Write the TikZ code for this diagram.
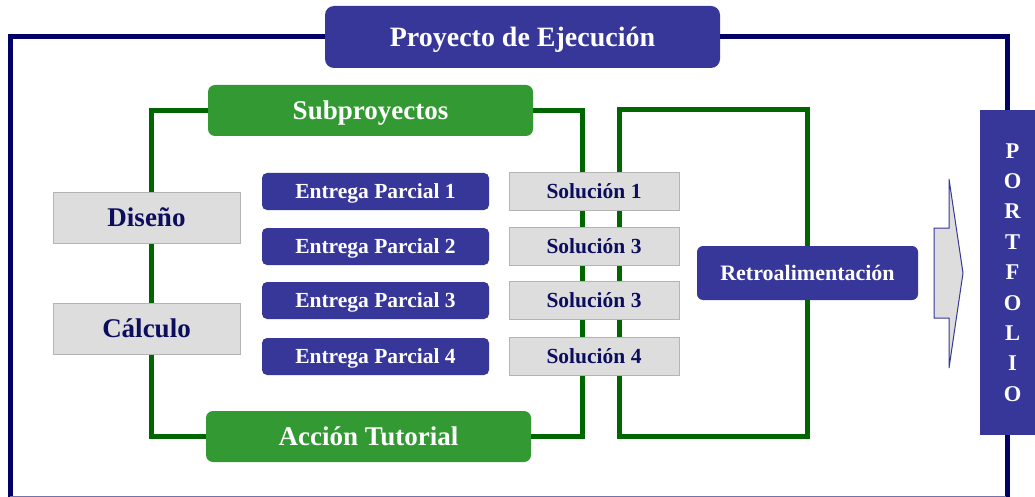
\documentclass[tikz,border=0pt]{standalone}
\usepackage{fontspec}
\setmainfont{Liberation Serif}
\definecolor{azul}{RGB}{55,54,153}
\definecolor{marino}{RGB}{0,0,102}
\definecolor{verde}{RGB}{51,153,51}
\definecolor{verdeosc}{RGB}{0,102,0}
\definecolor{gris}{RGB}{221,221,221}
\definecolor{grisb}{RGB}{180,180,180}
\definecolor{letra}{RGB}{13,13,94}
\newcommand{\tam}[1]{\bfseries\fontsize{#1}{#1}\selectfont}
\begin{document}
\begin{tikzpicture}[x=1pt, y=-1pt,
    caja/.style={inner sep=0pt, text depth=0pt},
    chico/.style={font=\tam{21.5}, text height=14.1pt},
    grande/.style={font=\tam{27}, text height=17.7pt},
    azulbox/.style={caja, fill=azul, rounded corners=6pt, text=white},
    verdebox/.style={caja, grande, fill=verde, rounded corners=7pt, text=white,
        minimum width=325pt, minimum height=51pt},
    grisbox/.style={caja, fill=gris, draw=grisb, line width=1pt, text=letra},
    marco/.style={draw=marino, line width=5pt},
    rama/.style={draw=verdeosc, line width=5pt}]
\useasboundingbox (0,0) rectangle (1035,497);

\node[azulbox, rounded corners=9pt, minimum width=395pt, minimum height=62pt, font=\tam{28}, text height=18.3pt] (proy) at (522.5,37) {Proyecto de Ejecución};
\node[verdebox] (sub) at (370.5,110.5) {Subproyectos};
\node[verdebox] (acc) at (368.5,436.5) {Acción Tutorial};
\node[azulbox, minimum width=221pt, minimum height=54pt, font=\tam{22}, text height=14.4pt] (retro) at (807.5,273) {Retroalimentación};
\node[fill=azul, minimum width=55pt, minimum height=325pt, inner sep=0pt] (port) at (1007.5,272.5) {};
\node[text=white, align=center, inner sep=0pt, font=\bfseries\fontsize{22.5}{30.4}\selectfont,
    xshift=5pt] (porttxt) at (port.center) {P\\O\\R\\T\\F\\O\\L\\I\\O};

% marco exterior
\draw[marco] (proy.west) -| (10.5,497);
\draw[marco] (proy.east) -| (port.north);
\draw[marco] (port.south) -- ++(0,62);
\draw[draw=marino!55, line width=1pt] (10,496) -- (1006,496);

% ramas verdes
\draw[rama] (sub.west) -- ++(-56,0) |- (acc.west);
\draw[rama] (sub.east) -- ++(49,0) |- (acc.east);
\draw[rama] (retro.north) |- (619,110) -- (619,436.5) -| (retro.south);

\node[grisbox, grande, minimum width=187pt, minimum height=51pt] (dis) at (146.5,217.5) {Diseño};
\node[grisbox, grande, minimum width=187pt, minimum height=51pt] (calc) at (146.5,328.5) {Cálculo};

\foreach \i/\y/\s in {1/191.5/1, 2/246.5/3, 3/300.5/3, 4/356.5/4}{
    \node[azulbox, chico, rounded corners=5pt, minimum width=227pt, minimum height=37pt] (ent\i) at (375.5,\y) {Entrega Parcial \i};
    \node[grisbox, chico, minimum width=170pt, minimum height=38pt] (sol\i) at (594,\y) {Solución \s};
}

% flecha
\draw[fill=gris, draw=azul, line width=1pt] (934,228) -- (949,228) -- (949,179) -- (963,273)
    -- (949,368) -- (949,318) -- (934,318) -- cycle;
\end{tikzpicture}
\end{document}
